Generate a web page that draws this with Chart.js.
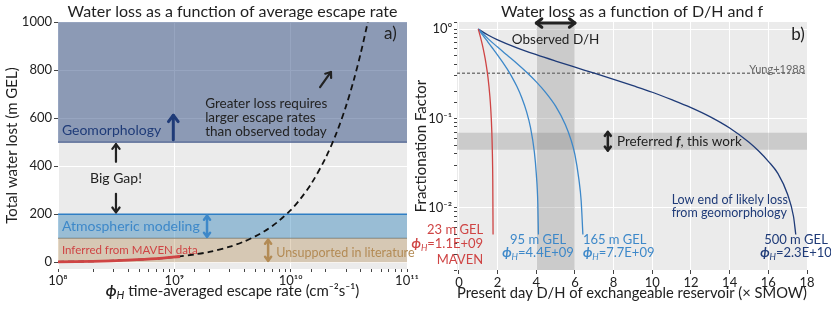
<!DOCTYPE html>
<html>
<head>
<meta charset="utf-8">
<script src="https://cdn.jsdelivr.net/npm/chart.js@4"></script>
<style>
    body { margin: 0; background: #fff; }
    #wrap { position: relative; width: 831px; height: 314px; overflow: hidden; }
    #left { position: absolute; left: 0; top: 0; }
    #right { position: absolute; left: 410px; top: 0; }
</style>
</head>
<body>
<div id="wrap">
    <canvas id="left" width="420" height="314"></canvas>
    <canvas id="right" width="421" height="314"></canvas>
</div>
<script>
// ---- panel a: water loss vs escape rate ----
const rateTicks = [1e8, 1e9, 1e10, 1e11];
const rateTickLabels = ['10⁸', '10⁹', '10¹⁰', '10¹¹'];
const lossTicks = [0, 200, 400, 600, 800, 1000];
const escapeRate = [1e8, 1.5e8, 2e8, 3e8, 5e8, 7e8, 1e9, 1.5e9, 2e9, 3e9, 4e9, 5e9, 6e9, 7e9, 8e9, 1e10, 1.2e10, 1.5e10, 2e10, 2.5e10, 3e10, 3.5e10, 4e10, 4.6e10, 5e10];
const totalLoss = [2, 3, 4, 7, 11, 15, 22, 33, 43, 65, 87, 109, 130, 152, 174, 217, 261, 326, 435, 543, 652, 761, 870, 1000, 1087];
const mavenRate = [1e8, 2e8, 4e8, 7e8, 1.12e9];
const mavenLoss = [2, 4, 9, 15, 24];
const geoBand = [500, 1000];
const atmoBand = [100, 200];
const litBand = [0, 100];

// ---- panel b: fractionation factor vs D/H ----
const fTicks = [1, 0.1, 0.01];
const fTickLabels = ['10⁰', '10⁻¹', '10⁻²'];
const dhRed = [1, 1.1, 1.2, 1.3, 1.4, 1.5, 1.6, 1.65, 1.7, 1.73, 1.75, 1.765];
const fRed = [1, 0.833, 0.681, 0.540, 0.411, 0.290, 0.177, 0.123, 0.071, 0.040, 0.020, 0.005];
const dh95 = [1, 1.25, 1.5, 1.75, 2, 2.25, 2.5, 2.75, 3, 3.25, 3.5, 3.7, 3.9, 4.0, 4.08, 4.11];
const f95 = [1, 0.843, 0.715, 0.606, 0.512, 0.429, 0.355, 0.288, 0.227, 0.170, 0.118, 0.079, 0.042, 0.024, 0.011, 0.005];
const dh165 = [1, 1.5, 2, 2.5, 3, 3.5, 4, 4.5, 5, 5.5, 5.8, 6.0, 6.2, 6.32, 6.41];
const f165 = [1, 0.782, 0.628, 0.508, 0.411, 0.328, 0.256, 0.193, 0.137, 0.0855, 0.057, 0.039, 0.021, 0.012, 0.005];
const dh500 = [1, 1.5, 2, 3, 4, 5, 6, 7, 8, 9, 10, 11, 12, 13, 14, 15, 15.5, 16, 16.5, 17, 17.3, 17.42];
const f500 = [1, 0.858, 0.758, 0.616, 0.516, 0.438, 0.374, 0.320, 0.273, 0.232, 0.196, 0.162, 0.132, 0.104, 0.078, 0.054, 0.043, 0.033, 0.024, 0.014, 0.008, 0.005];
const yungF = 0.32;
const preferredF = [0.0445, 0.069];
const observedDH = [4, 6];

const FONT = 'Lato, "Noto Sans", sans-serif';
const navy = '#1f3b78', blue = '#3d88c9', red = '#cf4444', tan = '#b38b55', ink = '#222';

Chart.defaults.font.family = FONT;
Chart.defaults.color = ink;

const xy = (xs, ys) => xs.map((x, i) => ({ x: x, y: ys[i] }));
const isMajor = (v, list) => list.some(t => Math.abs(t - v) / t < 1e-6);

function label(ctx, str, x, y, color, size, align, weight) {
    ctx.save();
    ctx.font = (weight || 'normal') + ' ' + size + 'px ' + FONT;
    ctx.fillStyle = color;
    ctx.textAlign = align || 'left';
    ctx.textBaseline = 'middle';
    ctx.fillText(str, x, y);
    ctx.restore();
}

// phi with subscript H followed by the rest of the text
function phiLabel(ctx, rest, x, y, color, size, align) {
    ctx.save();
    const f1 = 'italic bold ' + size + 'px ' + FONT;
    const f2 = 'italic ' + Math.round(size * 0.7) + 'px ' + FONT;
    const f3 = 'normal ' + size + 'px ' + FONT;
    ctx.font = f1; const w1 = ctx.measureText('ϕ').width;
    ctx.font = f2; const w2 = ctx.measureText('H').width;
    ctx.font = f3; const w3 = ctx.measureText(rest).width;
    const total = w1 + w2 + w3;
    let x0 = x;
    if (align === 'center') x0 = x - total / 2;
    if (align === 'right') x0 = x - total;
    ctx.fillStyle = color;
    ctx.textAlign = 'left';
    ctx.textBaseline = 'middle';
    ctx.font = f1; ctx.fillText('ϕ', x0, y);
    ctx.font = f2; ctx.fillText('H', x0 + w1, y + size * 0.3);
    ctx.font = f3; ctx.fillText(rest, x0 + w1 + w2, y);
    ctx.restore();
}

function arrow(ctx, x1, y1, x2, y2, color, w, head, both) {
    ctx.save();
    ctx.strokeStyle = color;
    ctx.lineWidth = w;
    ctx.lineCap = 'round';
    ctx.lineJoin = 'round';
    ctx.beginPath(); ctx.moveTo(x1, y1); ctx.lineTo(x2, y2); ctx.stroke();
    const a = Math.atan2(y2 - y1, x2 - x1);
    const tip = (x, y, ang) => {
        ctx.beginPath();
        ctx.moveTo(x - head * Math.cos(ang - 0.65), y - head * Math.sin(ang - 0.65));
        ctx.lineTo(x, y);
        ctx.lineTo(x - head * Math.cos(ang + 0.65), y - head * Math.sin(ang + 0.65));
        ctx.stroke();
    };
    tip(x2, y2, a);
    if (both) tip(x1, y1, a + Math.PI);
    ctx.restore();
}

const plotBg = {
    id: 'plotBg',
    beforeDraw(chart) {
        const { ctx, chartArea: a } = chart;
        ctx.save();
        ctx.fillStyle = '#ebebeb';
        ctx.fillRect(a.left, a.top, a.width, a.height);
        ctx.restore();
    }
};

const notesA = {
    id: 'notesA',
    afterDraw(chart) {
        const { ctx, chartArea: a } = chart;
        const X = v => chart.scales.x.getPixelForValue(v);
        const Y = v => chart.scales.y.getPixelForValue(v);
        label(ctx, 'Water loss as a function of average escape rate', (a.left + a.right) / 2, 12, ink, 16, 'center');
        label(ctx, 'a)', X(7.2e10), Y(950), ink, 17, 'center');
        label(ctx, 'Geomorphology', X(1.08e8), Y(550), navy, 14, 'left');
        arrow(ctx, X(9.8e8), Y(510), X(9.8e8), Y(612), navy, 3, 8, false);
        arrow(ctx, X(3.15e8), Y(418), X(3.15e8), Y(492), ink, 2.2, 6, false);
        label(ctx, 'Big Gap!', X(3.15e8), Y(350), ink, 14, 'center');
        arrow(ctx, X(3.15e8), Y(285), X(3.15e8), Y(208), ink, 2.2, 6, false);
        label(ctx, 'Atmospheric modeling', X(1.08e8), Y(150), blue, 14, 'left');
        arrow(ctx, X(1.91e9), Y(106), X(1.91e9), Y(194), blue, 2.5, 5, true);
        label(ctx, 'Inferred from MAVEN data', X(1.08e8), Y(50), red, 11.5, 'left');
        arrow(ctx, X(6.4e9), Y(6), X(6.4e9), Y(94), tan, 2.5, 5, true);
        label(ctx, 'Unsupported in literature', X(7.5e9), Y(38), tan, 12.5, 'left');
        label(ctx, 'Greater loss requires', X(1.84e9), Y(662), ink, 13.5, 'left');
        label(ctx, 'larger escape rates', X(1.84e9), Y(602), ink, 13.5, 'left');
        label(ctx, 'than observed today', X(1.84e9), Y(543), ink, 13.5, 'left');
        arrow(ctx, X(1.79e10), Y(729), X(2.22e10), Y(792), ink, 2.2, 6, false);
        phiLabel(ctx, ' time-averaged escape rate (cm⁻²s⁻¹)', (a.left + a.right) / 2, 291, ink, 15, 'center');
    }
};

const notesB = {
    id: 'notesB',
    afterDraw(chart) {
        const { ctx, chartArea: a } = chart;
        const X = v => chart.scales.x.getPixelForValue(v);
        const Y = v => chart.scales.y.getPixelForValue(v);
        label(ctx, 'Water loss as a function of D/H and f', (a.left + a.right) / 2, 12, ink, 16, 'center');
        label(ctx, 'b)', X(17.53), Y(0.879), ink, 17, 'center');
        arrow(ctx, X(observedDH[0]), Y(1.17), X(observedDH[1]), Y(1.17), ink, 3, 7, true);
        label(ctx, 'Observed D/H', X(5.0), Y(0.77), ink, 13.5, 'center');
        label(ctx, 'Yung+1988', X(17.9), Y(0.356), '#666', 11, 'right');
        arrow(ctx, X(7.7), Y(0.0435), X(7.7), Y(0.0705), ink, 2.5, 5, true);
        ctx.save();
        ctx.textBaseline = 'middle';
        ctx.fillStyle = ink;
        let px = X(8.17), py = Y(0.0548);
        ctx.font = '13.5px ' + FONT; ctx.fillText('Preferred ', px, py); px += ctx.measureText('Preferred ').width;
        ctx.font = 'italic bold 13.5px ' + FONT; ctx.fillText('f', px, py); px += ctx.measureText('f').width;
        ctx.font = '13.5px ' + FONT; ctx.fillText(', this work', px, py);
        ctx.restore();
        label(ctx, 'Low end of likely loss', X(11.0), Y(0.0121), navy, 12.5, 'left');
        label(ctx, 'from geomorphology', X(11.0), Y(0.00863), navy, 12.5, 'left');
        label(ctx, '23 m GEL', X(1.25), Y(0.0056), red, 13, 'right');
        phiLabel(ctx, '=1.1E+09', X(1.25), Y(0.0039), red, 13, 'right');
        label(ctx, 'MAVEN', X(1.25), Y(0.0026), red, 13, 'right');
        label(ctx, '95 m GEL', X(4.09), Y(0.0044), blue, 13, 'center');
        phiLabel(ctx, '=4.4E+09', X(4.09), Y(0.0031), blue, 13, 'center');
        label(ctx, '165 m GEL', X(6.41), Y(0.0044), blue, 13, 'left');
        phiLabel(ctx, '=7.7E+09', X(6.41), Y(0.0031), blue, 13, 'left');
        label(ctx, '500 m GEL', X(17.43), Y(0.0044), navy, 13, 'center');
        phiLabel(ctx, '=2.3E+10', X(17.43), Y(0.0031), navy, 13, 'center');
    }
};

const rateEnds = [rateTicks[0], rateTicks[rateTicks.length - 1]];

new Chart(document.getElementById('left'), {
    type: 'line',
    data: {
        datasets: [
            { data: xy(rateEnds, [geoBand[0], geoBand[0]]),
              borderColor: '#4f6391', borderWidth: 1.2, backgroundColor: 'rgba(25,55,115,0.45)', fill: 'end', pointRadius: 0, order: 5 },
            { data: xy(rateEnds, [atmoBand[1], atmoBand[1]]),
              borderColor: '#2f7ec4', borderWidth: 1.4, backgroundColor: 'rgba(31,119,180,0.4)', fill: { value: atmoBand[0] }, pointRadius: 0, order: 5 },
            { data: xy(rateEnds, [litBand[1], litBand[1]]),
              borderColor: '#9c8a72', borderWidth: 1.2, backgroundColor: 'rgba(160,110,40,0.28)', fill: { value: litBand[0] }, pointRadius: 0, order: 5 },
            { data: xy(escapeRate, totalLoss), borderColor: '#111', borderWidth: 1.8, borderDash: [6, 4],
              pointRadius: 0, fill: false, tension: 0.3, order: 2 },
            { data: xy(mavenRate, mavenLoss), borderColor: red, borderWidth: 2.8,
              pointRadius: 0, fill: false, tension: 0.3, order: 1 }
        ]
    },
    options: {
        responsive: false,
        animation: false,
        events: [],
        layout: { padding: { top: 22, right: 13, left: 0, bottom: 0 } },
        plugins: { legend: { display: false }, tooltip: { enabled: false }, title: { display: false } },
        scales: {
            x: {
                type: 'logarithmic', min: 1e8, max: 1e11,
                border: { display: false },
                grid: {
                    color: c => isMajor(c.tick.value, rateTicks) ? '#ffffff' : 'rgba(0,0,0,0)',
                    tickColor: '#444', tickLength: 3, lineWidth: 1
                },
                ticks: {
                    autoSkip: false, maxRotation: 0, padding: 1, font: { size: 13 }, color: ink,
                    callback: v => { const i = rateTicks.findIndex(t => Math.abs(t - v) / t < 1e-6); return i >= 0 ? rateTickLabels[i] : ''; }
                },
                afterFit: s => { s.height = 45; }
            },
            y: {
                min: -28, max: 1000,
                border: { display: false },
                grid: { color: '#ffffff', tickColor: '#444', tickLength: 4 },
                ticks: { padding: 2, font: { size: 13 }, color: ink, callback: v => String(v) },
                afterBuildTicks: s => { s.ticks = lossTicks.map(v => ({ value: v })); },
                title: { display: true, text: 'Total water lost (m GEL)', font: { size: 15 }, padding: { top: 3, bottom: 0 }, color: ink },
                afterFit: s => { s.width = 58; }
            }
        }
    },
    plugins: [plotBg, notesA]
});

const fMax = 1.2, fMin = 0.002, dhMin = -0.1, dhMax = 18;

new Chart(document.getElementById('right'), {
    type: 'line',
    data: {
        datasets: [
            { data: xy(observedDH, [fMax, fMax]), borderWidth: 0, backgroundColor: 'rgba(128,128,128,0.3)',
              fill: 'start', pointRadius: 0, order: 6 },
            { data: xy([dhMin, dhMax], [preferredF[1], preferredF[1]]), borderWidth: 0, backgroundColor: 'rgba(128,128,128,0.3)',
              fill: { value: preferredF[0] }, pointRadius: 0, order: 6 },
            { data: xy([dhMin, dhMax], [yungF, yungF]), borderColor: '#7a7a7a', borderWidth: 1.4, borderDash: [3, 2],
              pointRadius: 0, fill: false, order: 5 },
            { data: xy(dhRed, fRed), borderColor: red, borderWidth: 1.3, pointRadius: 0, fill: false, cubicInterpolationMode: 'monotone', order: 1 },
            { data: xy(dh95, f95), borderColor: blue, borderWidth: 1.3, pointRadius: 0, fill: false, cubicInterpolationMode: 'monotone', order: 1 },
            { data: xy(dh165, f165), borderColor: blue, borderWidth: 1.3, pointRadius: 0, fill: false, cubicInterpolationMode: 'monotone', order: 1 },
            { data: xy(dh500, f500), borderColor: navy, borderWidth: 1.3, pointRadius: 0, fill: false, cubicInterpolationMode: 'monotone', order: 1 }
        ]
    },
    options: {
        responsive: false,
        animation: false,
        events: [],
        layout: { padding: { top: 22, right: 24, left: 0, bottom: 0 } },
        plugins: { legend: { display: false }, tooltip: { enabled: false }, title: { display: false } },
        scales: {
            x: {
                type: 'linear', min: dhMin, max: dhMax,
                border: { display: false },
                grid: { color: '#ffffff', tickColor: '#444', tickLength: 4 },
                ticks: { stepSize: 2, includeBounds: false, maxRotation: 0, padding: 1, font: { size: 13 }, color: ink },
                title: { display: true, text: 'Present day D/H of exchangeable reservoir (× SMOW)', font: { size: 15 }, padding: { top: 0, bottom: 12 }, color: ink },
                afterFit: s => { s.height = 44; }
            },
            y: {
                type: 'logarithmic', min: fMin, max: fMax,
                border: { display: false },
                grid: {
                    color: c => isMajor(c.tick.value, fTicks) ? '#ffffff' : 'rgba(0,0,0,0)',
                    tickColor: '#444', tickLength: 3
                },
                ticks: {
                    autoSkip: false, padding: 2, font: { size: 13 }, color: ink,
                    callback: v => { const i = fTicks.findIndex(t => Math.abs(t - v) / t < 1e-6); return i >= 0 ? fTickLabels[i] : ''; }
                },
                title: { display: true, text: 'Fractionation Factor', font: { size: 15 }, padding: { top: 2, bottom: 0 }, color: ink },
                afterFit: s => { s.width = 47; }
            }
        }
    },
    plugins: [plotBg, notesB]
});
</script>
</body>
</html>
